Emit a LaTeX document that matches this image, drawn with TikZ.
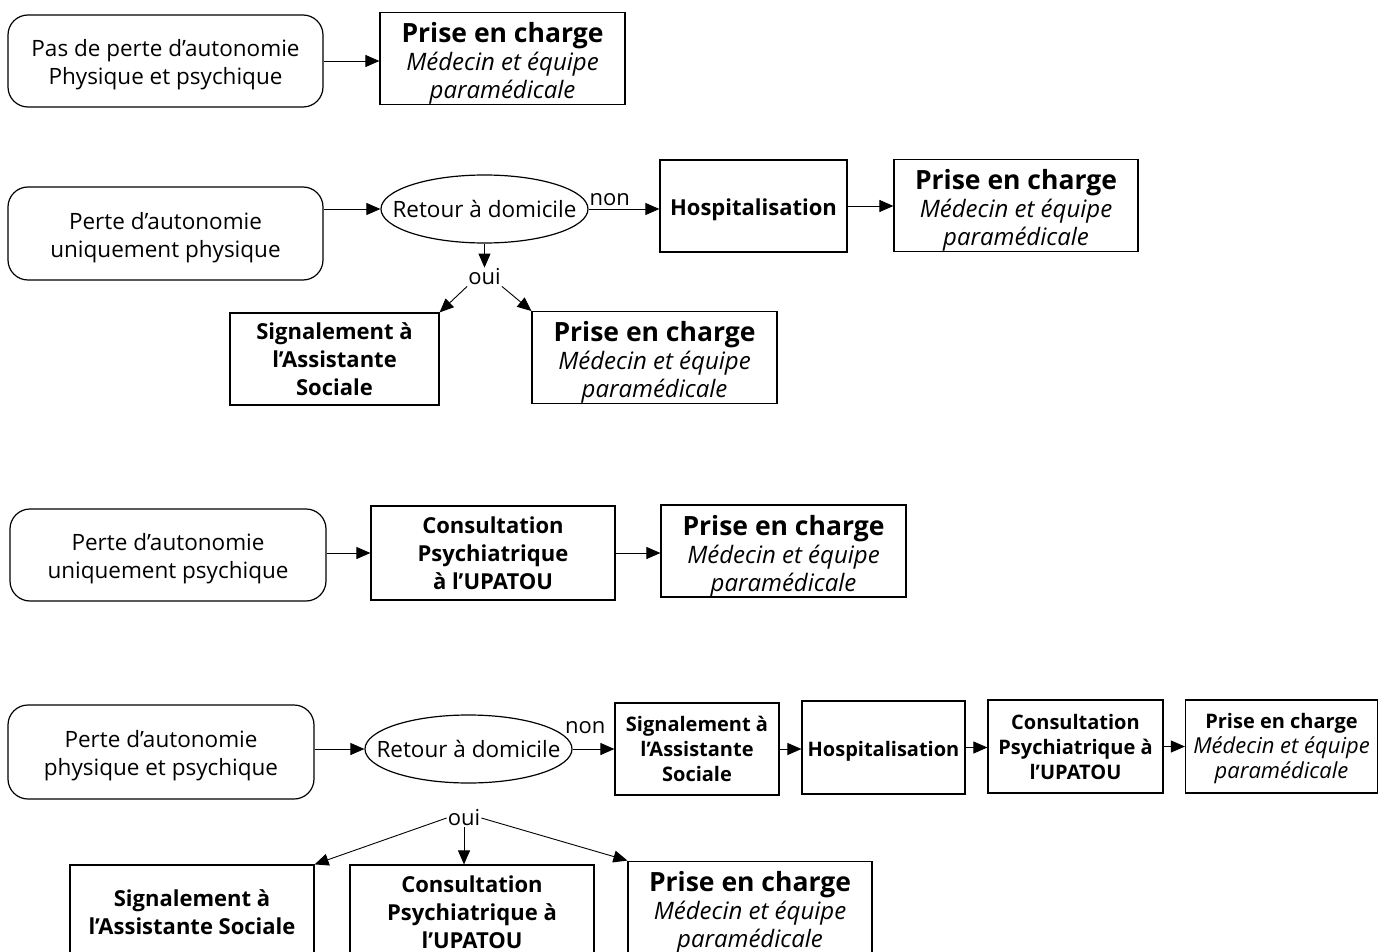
\documentclass[tikz,border=0pt]{standalone}
\usepackage{fontspec}
\setmainfont{Open Sans}
\usetikzlibrary{shapes.geometric,arrows.meta}
\tikzset{
  base/.style={draw, line width=1.2pt, align=center, inner sep=0pt,
    font=\fontsize{22.5}{28}\selectfont},
  rbox/.style={base, rounded corners=20pt},
  sbox/.style={base, font=\fontsize{22}{28}\selectfont\bfseries},
  sboxs/.style={base, font=\fontsize{20}{25}\selectfont\bfseries},
  ell/.style={base, ellipse},
  arr/.style={-{Triangle[length=14pt,width=12pt]}, line width=0.9pt},
  lbl/.style={font=\fontsize{22}{24}\selectfont, inner sep=1pt},
}
\newcommand{\rs}{\rule{0pt}{25pt}}
\newcommand{\pbig}{{\fontsize{26.5}{29}\selectfont\bfseries\rule{0pt}{30pt}Prise en charge}}
\newcommand{\pmed}{\fontsize{24}{27}\selectfont\mdseries\itshape Médecin et équipe\\\fontsize{24}{27}\selectfont\mdseries\itshape paramédicale}
\newcommand{\pmeds}{\fontsize{22}{25}\selectfont\mdseries\itshape Médecin et équipe\\\fontsize{22}{25}\selectfont\mdseries\itshape paramédicale}
\newcommand{\elltext}{\makebox[140pt][c]{Retour à domicile}}
\begin{document}
\begin{tikzpicture}[x=1pt,y=-1pt]
\useasboundingbox (0,0) rectangle (1379,952);
\fill[white] (0,0) rectangle (1379,952);
\clip (0,0) rectangle (1379,952);

% Row 1
\node[rbox, minimum width=315pt, minimum height=92pt] (a1) at (165.5,61) {\rs Pas de perte d'autonomie\\Physique et psychique};
\node[sbox, minimum width=245pt, minimum height=91pt] (b1) at (502.5,58.5) {\pbig\\\pmed};
\draw[arr] (a1.east) -- (a1.east -| b1.west);

% Row 2
\node[rbox, minimum width=315pt, minimum height=93pt] (a2) at (165.5,233.5) {\rs Perte d'autonomie\\uniquement physique};
\node[ell, minimum width=207pt, minimum height=68pt] (e2) at (484.5,209) {\elltext};
\node[sbox, minimum width=187pt, minimum height=92pt] (h2) at (753.5,206) {\rule{0pt}{24.5pt}Hospitalisation};
\node[sbox, minimum width=244pt, minimum height=91pt] (p2) at (1016,205.5) {\pbig\\\pmed};
\node[lbl] (oui2) at (484.5,277) {oui};
\node[sbox, minimum width=209pt, minimum height=92pt] (s2) at (334.5,359) {Signalement à\\l'Assistante\\Sociale};
\node[sbox, minimum width=245pt, minimum height=91pt] (p22) at (654.5,357.5) {\pbig\\\pmed};
\draw[arr] (a2.east |- e2.west) -- (e2.west);
\draw[arr] (e2.east) -- node[lbl, pos=0.3, above=2pt] {non} (e2.east -| h2.west);
\draw[arr] (h2.east) -- (h2.east -| p2.west);
\draw[arr] (e2.south) -- (oui2.north);
\draw[arr] (oui2.south west) -- (s2.north east);
\draw[arr] (oui2.south east) -- (p22.north west);

% Row 3
\node[rbox, minimum width=316pt, minimum height=92pt] (a3) at (168,555) {\rs Perte d'autonomie\\uniquement psychique};
\node[sbox, minimum width=244pt, minimum height=94pt] (c3) at (493,553) {Consultation\\Psychiatrique\\à l'UPATOU};
\node[sbox, minimum width=245pt, minimum height=92pt] (p3) at (783.5,551) {\pbig\\\pmed};
\draw[arr] (a3.east |- c3.west) -- (c3.west);
\draw[arr] (c3.east) -- (c3.east -| p3.west);

% Row 4
\node[rbox, minimum width=306pt, minimum height=94pt] (a4) at (161,752) {\rs Perte d'autonomie\\physique et psychique};
\node[ell, minimum width=207pt, minimum height=68pt] (e4) at (468.5,749) {\elltext};
\node[sboxs, minimum width=164pt, minimum height=92pt] (s4) at (697,749) {Signalement à\\l'Assistante\\Sociale};
\node[sboxs, minimum width=163pt, minimum height=93pt] (h4) at (883.5,747.5) {\rule{0pt}{23pt}Hospitalisation};
\node[sboxs, minimum width=175pt, minimum height=93pt] (c4) at (1075.5,746.5) {Consultation\\Psychiatrique à\\l'UPATOU};
\node[sboxs, minimum width=192pt, minimum height=93pt] (p4) at (1281.5,746.5) {\rule{0pt}{19pt}Prise en charge\\\pmeds};
\node[lbl] (oui4) at (464,818) {oui};
\node[sbox, minimum width=244pt, minimum height=94pt] (s4b) at (192,912) {Signalement à\\l'Assistante Sociale};
\node[sbox, minimum width=244pt, minimum height=94pt] (c4b) at (472,912) {Consultation\\Psychiatrique à\\l'UPATOU};
\node[sbox, minimum width=244pt, minimum height=88pt] (p4b) at (750,907) {\pbig\\\pmed};
\draw[arr] (a4.east |- e4.west) -- (e4.west);
\draw[arr] (e4.east) -- node[lbl, pos=0.3, above=14pt] {non} (e4.east -| s4.west);
\draw[arr] (s4.east) -- (s4.east -| h4.west);
\draw[arr] (h4.east) -- (h4.east -| c4.west);
\draw[arr] (c4.east) -- (c4.east -| p4.west);
\draw[arr] (oui4.west) -- (s4b.north east);
\draw[arr] (oui4.south) -- (oui4.south |- c4b.north);
\draw[arr] (oui4.east) -- (p4b.north west);
\end{tikzpicture}
\end{document}
